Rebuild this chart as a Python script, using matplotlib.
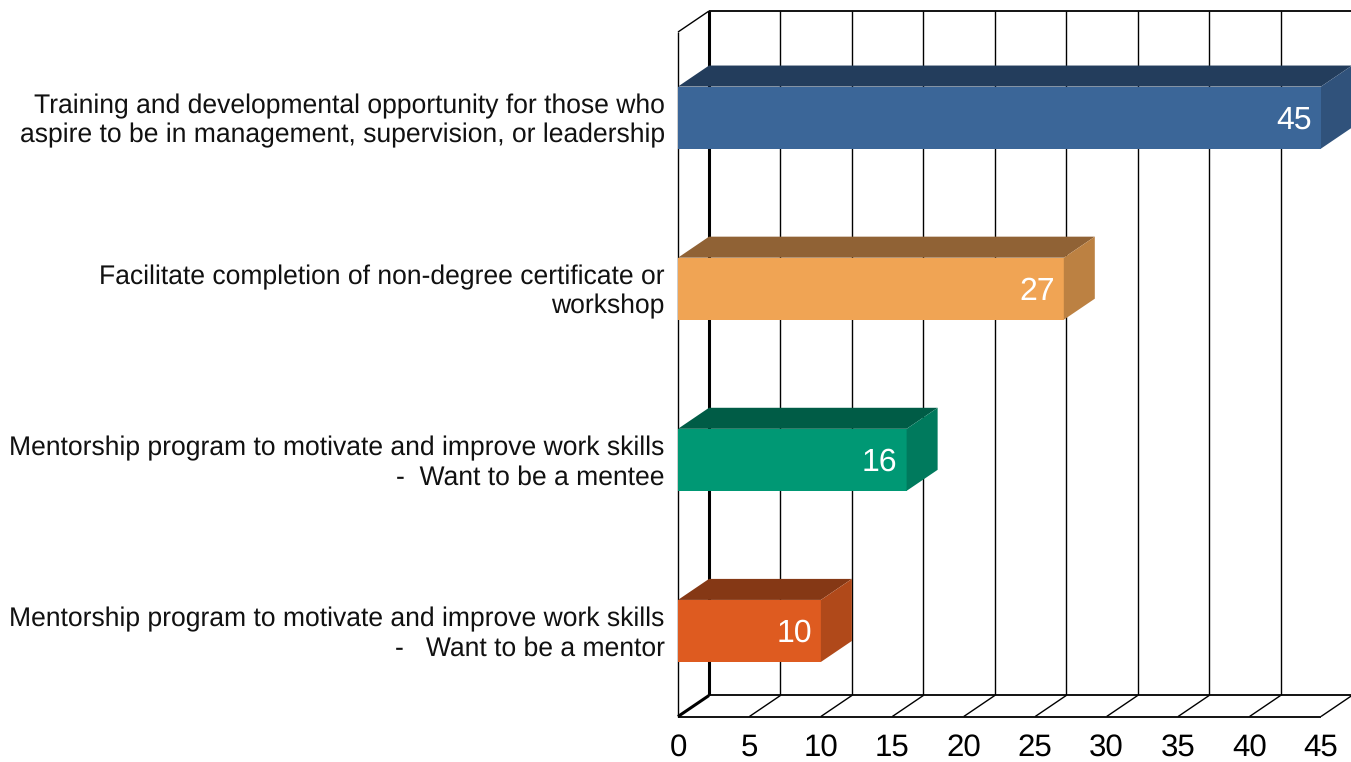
import matplotlib

matplotlib.use("Agg")
import matplotlib.pyplot as plt
from matplotlib.patches import Polygon
from matplotlib.transforms import ScaledTranslation

# bottom to top, same order as the y axis
labels = [
    "Mentorship program to motivate and improve work skills\n-   Want to be a mentor",
    "Mentorship program to motivate and improve work skills\n-  Want to be a mentee",
    "Facilitate completion of non-degree certificate or\nworkshop",
    "Training and developmental opportunity for those who\naspire to be in management, supervision, or leadership",
]
values = [10, 16, 27, 45]
front_colors = ["#DE5B20", "#009874", "#F0A454", "#3B6698"]
top_colors = ["#853815", "#005C46", "#906235", "#233D5C"]
side_colors = ["#B0491A", "#007A5D", "#BC8142", "#30527B"]
x_ticks = [0, 5, 10, 15, 20, 25, 30, 35, 40, 45]

# size of the fake 3d depth, in data units
DX = 31 / 14.289
DY = 21 / 171
BAR_H = 62 / 171
Y0, Y1 = -0.5, 3.5
XMAX = 673 / 14.289

plt.rcParams["font.family"] = ["Liberation Sans", "DejaVu Sans"]
plt.rcParams["text.hinting"] = "none"

fig = plt.figure(figsize=(13.51, 7.62), dpi=100)
ax = fig.add_axes([678 / 1351, (762 - 716.5) / 762, 673 / 1351, 705.5 / 762])
ax.set_xlim(0, XMAX)
ax.set_ylim(Y0, Y1 + DY)
for s in ax.spines.values():
    s.set_visible(False)

line = dict(color="black", lw=1.0, clip_on=False, zorder=1, solid_capstyle="butt")

# back wall and floor grid
for t in x_ticks:
    lw = 2.2 if t == 0 else 1.0
    ax.plot([t + DX, t + DX], [Y0 + DY, Y1 + DY], **{**line, "lw": lw})
    ax.plot([t, t + DX], [Y0, Y0 + DY], **{**line, "lw": lw})
ax.plot([DX, XMAX], [Y1 + DY, Y1 + DY], **{**line, "lw": 1.3})
ax.plot([DX, XMAX], [Y0 + DY, Y0 + DY], **{**line, "lw": 1.3})
ax.plot([0, x_ticks[-1]], [Y0, Y0], **{**line, "lw": 1.3})

# left wall
ax.plot([0, 0], [Y0, Y1], **line)
ax.plot([0, DX], [Y1, Y1 + DY], **line)

for i, v in enumerate(values):
    y1, y2 = i - BAR_H / 2, i + BAR_H / 2
    ax.add_patch(Polygon([(0, y1), (v, y1), (v, y2), (0, y2)], fc=front_colors[i], ec="none", zorder=3))
    ax.add_patch(Polygon([(0, y2), (v, y2), (v + DX, y2 + DY), (DX, y2 + DY)], fc=top_colors[i], ec="none", zorder=3))
    ax.add_patch(Polygon([(v, y1), (v + DX, y1 + DY), (v + DX, y2 + DY), (v, y2)], fc=side_colors[i], ec="none",
                         zorder=3, clip_on=False))
    ax.annotate(str(v), (v, i), xytext=(-6.5, -8), textcoords="offset points", color="white", fontsize=23,
                ha="right", va="baseline", zorder=4)

ax.set_xticks(x_ticks)
ax.set_xticklabels([str(t) for t in x_ticks], fontsize=22.5, va="baseline")
ax.set_yticks(range(len(labels)))
ax.set_yticklabels(labels, fontsize=19.1, linespacing=1.2, ha="right", va="center", color="#111111")
ax.tick_params(axis="x", length=0, pad=28.4)
ax.tick_params(axis="y", length=0, pad=9.5)

# the labels sit a little below the bar centres
shift = ScaledTranslation(0, -3.5 / 100, fig.dpi_scale_trans)
for lab in ax.get_yticklabels():
    lab.set_transform(lab.get_transform() + shift)

fig.savefig("out.png", dpi=100)
